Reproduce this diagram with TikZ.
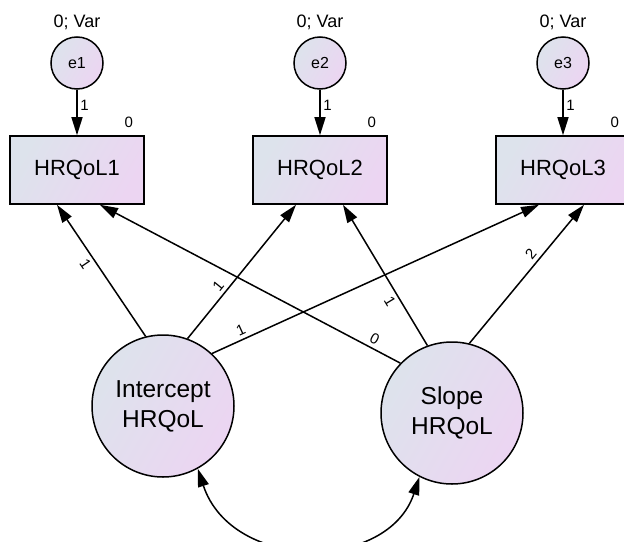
\documentclass[tikz,border=0pt]{standalone}
\usepackage{fontspec}
\setmainfont{Liberation Sans}
\usetikzlibrary{arrows.meta,calc}
\definecolor{gA}{HTML}{DDE3EC}
\definecolor{gB}{HTML}{ECD5F2}
\begin{document}
\begin{tikzpicture}[x=1pt,y=-1pt,
  shd/.style={left color=gA,right color=gB,shading angle=60},
  obs/.style={shd,draw,line width=1.6pt,rectangle,minimum width=134pt,minimum height=68pt,inner sep=0pt,font=\fontsize{22}{26}\selectfont},
  err/.style={shd,draw,line width=1.5pt,circle,minimum size=52pt,inner sep=0pt,font=\fontsize{16}{18}\selectfont},
  lat/.style={shd,draw,line width=1.5pt,circle,minimum size=142pt,inner sep=0pt,align=center,font=\fontsize{24.5}{30}\selectfont},
  txt/.style={inner sep=0pt,font=\fontsize{18}{20}\selectfont},
  lbl/.style={inner sep=1.5pt,font=\fontsize{15}{17}\selectfont},
  reg/.style={line width=1.5pt,-{Triangle[length=18pt,width=11pt]}},
  cov/.style={line width=1.5pt,{Triangle[length=18pt,width=11pt]}-{Triangle[length=18pt,width=11pt]}}
]
\useasboundingbox (0,0) rectangle (624,541);
% observed
\node[obs] (b1) at (77,170) {HRQoL1};
\node[obs] (b2) at (320,170) {HRQoL2};
\node[obs] (b3) at (563,170) {HRQoL3};
% errors
\node[err] (e1) at (77,63) {e1};
\node[err] (e2) at (320,63) {e2};
\node[err] (e3) at (563,63) {e3};
\node[txt] (v1) at ($(e1.north)+(0,-14)$) {0; Var};
\node[txt] (v2) at ($(e2.north)+(0,-14)$) {0; Var};
\node[txt] (v3) at ($(e3.north)+(0,-14)$) {0; Var};
\node[lbl,inner sep=0pt] (m1) at ($(b1.north east)+(-16,-13)$) {0};
\node[lbl,inner sep=0pt] (m2) at ($(b2.north east)+(-16,-13)$) {0};
\node[lbl,inner sep=0pt] (m3) at ($(b3.north east)+(-16,-13)$) {0};
% latents
\node[lat] (I) at (163,406) {Intercept\\HRQoL};
\node[lat] (S) at (452,413) {Slope\\HRQoL};
% tips
\coordinate (b1L) at ($(b1.south)+(-20,0)$);
\coordinate (b1R) at ($(b1.south)+(23,0)$);
\coordinate (b2L) at ($(b2.south)+(-24,0)$);
\coordinate (b2R) at ($(b2.south)+(23,0)$);
\coordinate (b3L) at ($(b3.south)+(-24,0)$);
\coordinate (b3R) at ($(b3.south)+(21,0)$);
% error paths
\draw[reg] (e1) -- (b1) node[lbl,pos=0.34,right=1pt]{1};
\draw[reg] (e2) -- (b2) node[lbl,pos=0.34,right=1pt]{1};
\draw[reg] (e3) -- (b3) node[lbl,pos=0.34,right=1pt]{1};
% loadings
\draw[reg] (I.104) -- (b1L) node[lbl,pos=0.59,sloped,below=2pt]{1};
\draw[reg] (I.70) -- (b2L) node[lbl,pos=0.35,sloped,above=2pt]{1};
\draw[reg] (I.47) -- (b3L) node[lbl,pos=0.1,sloped,above=2pt]{1};
\draw[reg] (S.136) -- (b1R) node[lbl,pos=0.1,sloped,above=2pt]{0};
\draw[reg] (S.110) -- (b2R) node[lbl,pos=0.35,sloped,below=2pt]{1};
\draw[reg] (S.76) -- (b3R) node[lbl,pos=0.6,sloped,above=2pt]{2};
% covariance
\draw[cov] (I.-61) .. controls (232,572) and (388,572) .. (S.243);
\end{tikzpicture}
\end{document}
